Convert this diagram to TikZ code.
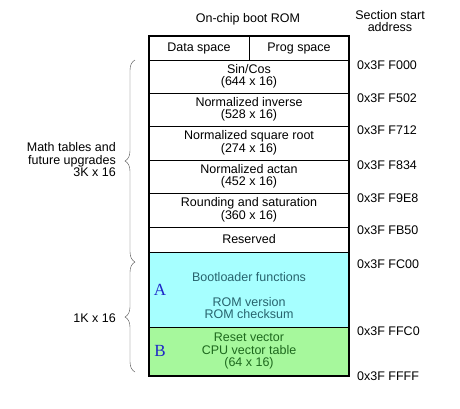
\documentclass[tikz,border=0pt]{standalone}
\usepackage{fontspec}
\setmainfont{Liberation Sans}
\newfontfamily\letterfont{Liberation Serif}
\usetikzlibrary{decorations.pathreplacing}

\definecolor{bootfill}{RGB}{166,255,255}
\definecolor{boottext}{RGB}{40,100,110}
\definecolor{vecfill}{RGB}{166,248,156}
\definecolor{vectext}{RGB}{30,105,30}
\definecolor{letterblue}{RGB}{30,40,200}

\tikzset{
    rowbox/.style={draw, thin, minimum width=200pt, inner sep=0pt, align=center},
    halfbox/.style={draw, thin, minimum width=100pt, minimum height=24pt, inner sep=0pt},
    addr/.style={anchor=west, inner sep=0pt},
    sidetext/.style={anchor=east, align=right, inner sep=0pt},
    brace/.style={decorate, decoration={brace, amplitude=10pt}, black!70, thin},
    letter/.style={letterblue, font=\letterfont\fontsize{17}{17}\selectfont, inner sep=0pt}
}

\begin{document}
\begin{tikzpicture}[x=1pt, y=-1pt, font=\fontsize{12.5}{12.5}\selectfont]
    \useasboundingbox (0,0) rectangle (460,408);

    % Titles.
    \node (title) at (248,19) {On-chip boot ROM};
    \node[align=center] (sechead) at (390,21) {Section start\\address};

    % Draw ROM rows.
    \node[halfbox] (data) at (199,48) {Data space};
    \node[halfbox] (prog) at (299,48) {Prog space};
    \node[rowbox, minimum height=33pt] (sincos) at (249,76.5) {Sin/Cos\\(644 x 16)};
    \node[rowbox, minimum height=33pt] (inv) at (249,109.5) {Normalized inverse\\(528 x 16)};
    \node[rowbox, minimum height=34pt] (sqrt) at (249,143) {Normalized square root\\(274 x 16)};
    \node[rowbox, minimum height=33pt] (actan) at (249,176.5) {Normalized actan\\(452 x 16)};
    \node[rowbox, minimum height=34pt] (round) at (249,210) {Rounding and saturation\\(360 x 16)};
    \node[rowbox, minimum height=25pt] (res) at (249,239.5) {Reserved};
    \node[rowbox, fill=bootfill, minimum height=75pt] (boot) at (249,289.5) {};
    \node[rowbox, fill=vecfill, minimum height=49pt] (vec) at (249,351.5) {};

    % bootloader and vector texts
    \node[boottext] (boottxt) at (249,277) {Bootloader functions};
    \node[boottext, align=center] (romtxt) at (249,308) {ROM version\\ROM checksum};
    \node[vectext, align=center] (vectxt) at (249,351) {Reset vector\\CPU vector table\\(64 x 16)};
    \node[letter] (lettera) at (160,290) {A};
    \node[letter] (letterb) at (160,351) {B};

    % outer frame
    \draw[line width=2pt] (data.north west) rectangle (vec.south east);

    % addresses
    \foreach \y/\txt [count=\i] in {65/0x3F F000, 98/0x3F F502, 130/0x3F F712,
        165/0x3F F834, 198/0x3F F9E8, 230/0x3F FB50, 264/0x3F FC00,
        331/0x3F FFC0, 376/0x3F FFFF}
    {
        \node[addr] (addr\i) at (357,\y) {\txt};
    }

    % braces
    \coordinate (mathtop) at (135,60);
    \coordinate (mathbot) at (135,262);
    \coordinate (bootbot) at (135,372);
    \draw[brace] (mathbot) -- (mathtop);
    \draw[brace] (bootbot) -- (mathbot);
    \node[sidetext] (mathtxt) at (116,160) {Math tables and\\future upgrades\\3K x 16};
    \node[sidetext] (boottxtk) at (116,318) {1K x 16};

\end{tikzpicture}
\end{document}
